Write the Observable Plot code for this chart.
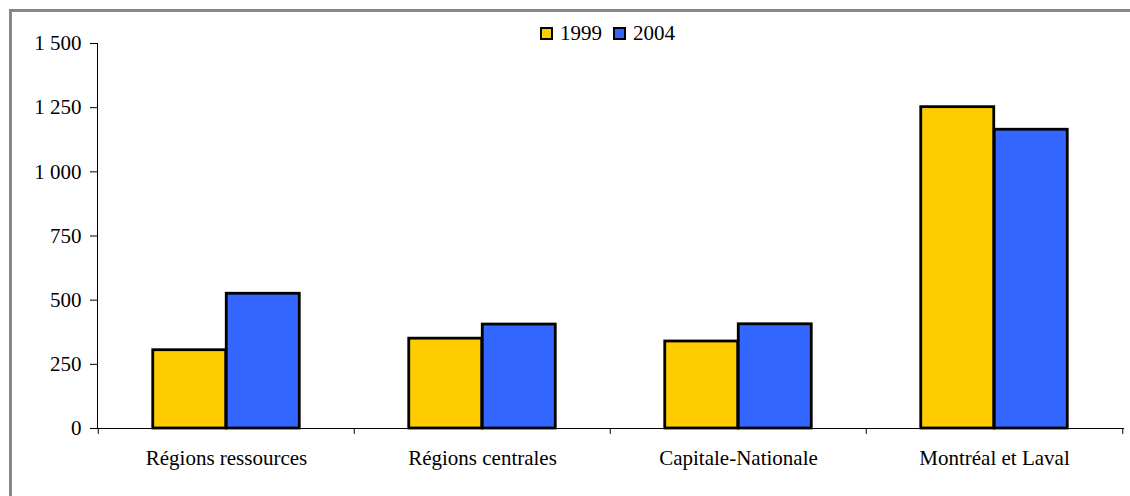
<!DOCTYPE html>
<html>
<head>
<meta charset="utf-8">
<script src="https://cdn.jsdelivr.net/npm/d3@7"></script>
<script src="https://cdn.jsdelivr.net/npm/@observablehq/plot@0.6"></script>
<style>
  body { margin: 0; background: #fff; }
  #wrap { position: relative; width: 1130px; height: 496px; overflow: hidden; font-family: "Liberation Serif", "Times New Roman", "DejaVu Serif", serif; }
  #border { position: absolute; left: 9px; top: 9px; width: 1200px; height: 600px; border-top: 3px solid #878787; border-left: 3px solid #878787; box-sizing: border-box; }
  #legend { position: absolute; left: 540px; top: 21px; display: flex; align-items: center; font-size: 21px; color: #000; }
  .sw { width: 9px; height: 9px; border: 2px solid #000; display: inline-block; margin-right: 7px; }
  .item { display: flex; align-items: center; margin-right: 11px; }
  svg { position: absolute; left: 0; top: 0; }
  #chart svg text { font-family: "Liberation Serif", "Times New Roman", "DejaVu Serif", serif; }
</style>
</head>
<body>
<div id="wrap">
  <div id="border"></div>
  <div id="chart"></div>
  <div id="legend"></div>
</div>
<script>
const categories = ["Régions ressources", "Régions centrales", "Capitale-Nationale", "Montréal et Laval"];
const series = ["1999", "2004"];
const values1999 = [305, 350, 339, 1252];
const values2004 = [525, 405, 406, 1164];
const colors = ["#FFCC00", "#3366FF"];
const yTicks = [0, 250, 500, 750, 1000, 1250, 1500];

const rows = [];
categories.forEach((c, i) => {
  rows.push({cat: c, year: "1999", value: values1999[i]});
  rows.push({cat: c, year: "2004", value: values2004[i]});
});

const W = 1130, H = 496, mL = 97, mR = 7, mT = 43, mB = 68;
const band = (W - mL - mR) / categories.length;
const barW = 73.5;
const fmt = d => d3.format(",")(d).replace(/,/g, " ");

const chart = Plot.plot({
  width: W,
  height: H,
  marginLeft: mL,
  marginRight: mR,
  marginTop: mT,
  marginBottom: mB,
  style: {fontFamily: "'Liberation Serif', 'Times New Roman', serif", fontSize: "21px", color: "#000", background: "transparent", overflow: "visible"},
  x: {domain: categories, padding: 0},
  y: {domain: [0, 1500]},
  marks: [
    Plot.barY(rows.filter(d => d.year === "1999"), {
      x: "cat", y: "value", fill: colors[0], stroke: "#000", strokeWidth: 2.8,
      insetLeft: band / 2 - barW, insetRight: band / 2
    }),
    Plot.barY(rows.filter(d => d.year === "2004"), {
      x: "cat", y: "value", fill: colors[1], stroke: "#000", strokeWidth: 2.8,
      insetLeft: band / 2, insetRight: band / 2 - barW
    }),
    Plot.frame({anchor: "left", stroke: "#000", strokeWidth: 1}),
    Plot.frame({anchor: "bottom", stroke: "#000", strokeWidth: 1}),
    Plot.ruleX(categories, {x: d => d, dx: -band / 2, y1: 0, y2: -23, stroke: "#000", clip: false}),
    Plot.ruleX([categories[categories.length - 1]], {x: d => d, dx: band / 2, y1: 0, y2: -23, stroke: "#000", clip: false}),
    Plot.axisY({ticks: yTicks, tickFormat: fmt, tickSize: 7, tickPadding: 9, label: null, fontSize: 21}),
    Plot.axisX({tickSize: 0, tickPadding: 22, label: null, fontSize: 21})
  ]
});
document.getElementById("chart").appendChild(chart);

const legend = document.getElementById("legend");
series.forEach((s, i) => {
  const it = document.createElement("div");
  it.className = "item";
  const sw = document.createElement("span");
  sw.className = "sw";
  sw.style.background = colors[i];
  it.appendChild(sw);
  const t = document.createElement("span");
  t.textContent = s;
  it.appendChild(t);
  legend.appendChild(it);
});
</script>
</body>
</html>
